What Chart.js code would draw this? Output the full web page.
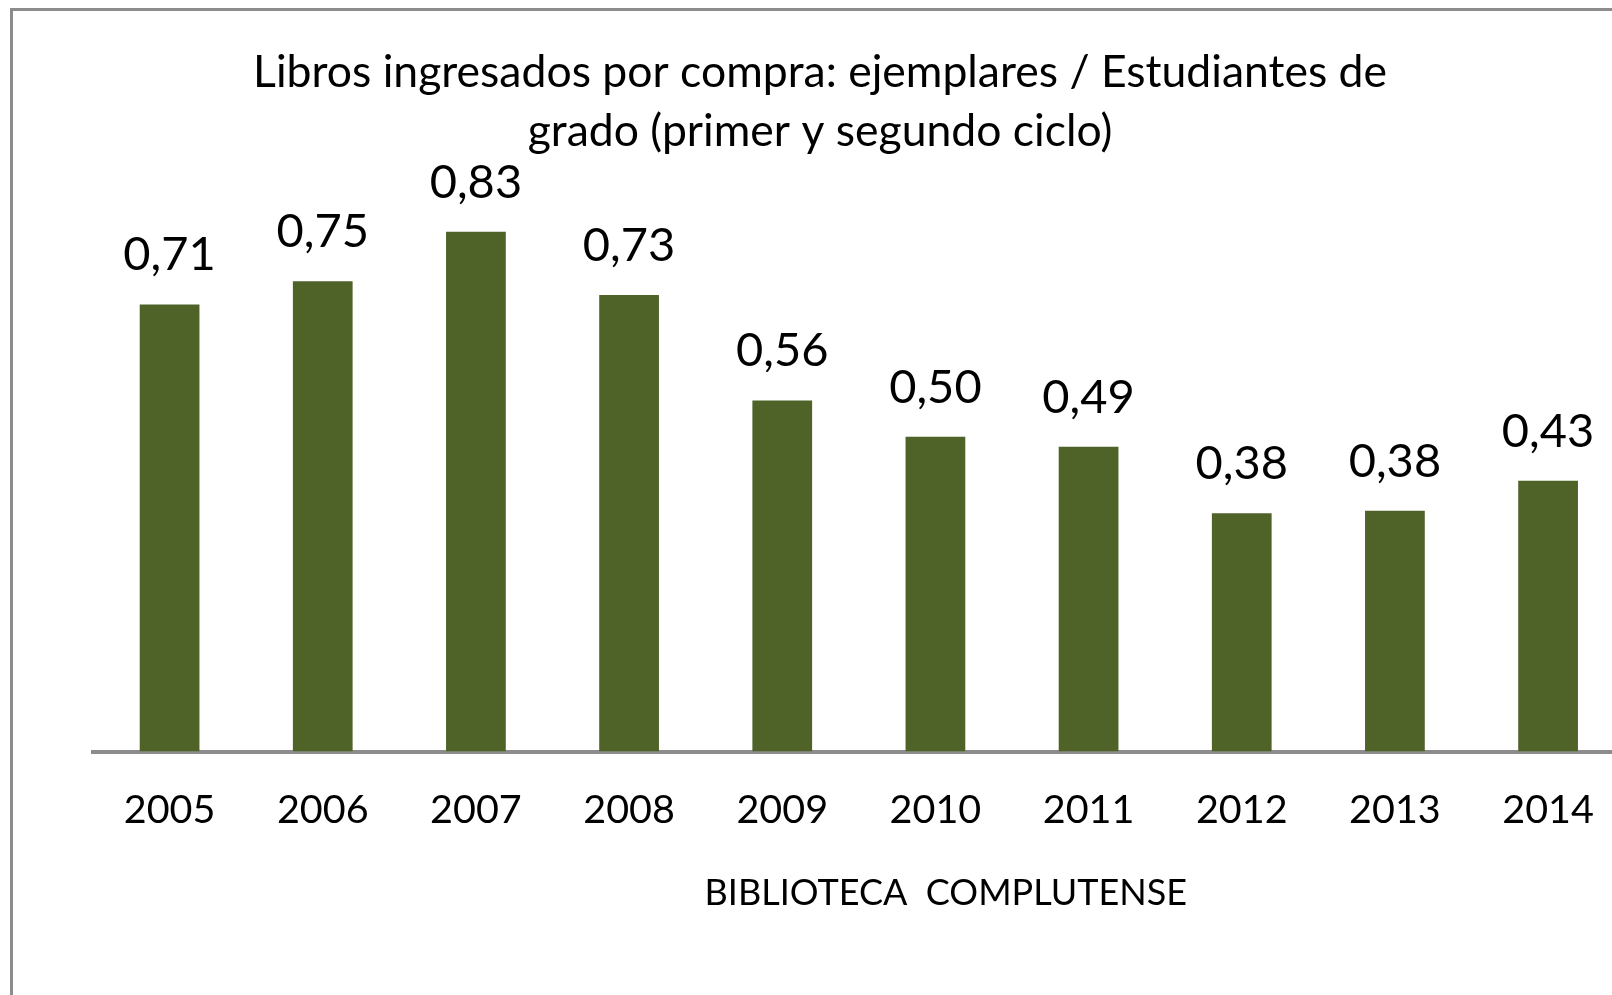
<!DOCTYPE html>
<html>
<head>
<meta charset="utf-8">
<script src="https://cdn.jsdelivr.net/npm/chart.js@4"></script>
<style>
    html, body { margin: 0; padding: 0; background: #fff; overflow: hidden; }
    body { width: 1612px; height: 995px; position: relative; }
    #frame {
        position: absolute; left: 10px; top: 8px; width: 1700px; height: 1100px;
        border-left: 3px solid #8c8c8c; border-top: 3px solid #8c8c8c;
    }
    #chart { position: absolute; left: 13px; top: 11px; }
</style>
</head>
<body>
<div id="frame"></div>
<canvas id="chart" width="1616" height="984"></canvas>
<script>
// --- Data ---
const years = ['2005', '2006', '2007', '2008', '2009', '2010', '2011', '2012', '2013', '2014'];
const ratios = [0.713, 0.750, 0.829, 0.728, 0.560, 0.502, 0.486, 0.380, 0.384, 0.432];
const titleLines = ['Libros ingresados por compra: ejemplares / Estudiantes de', 'grado (primer y segundo ciclo)'];
const axisTitle = 'BIBLIOTECA  COMPLUTENSE';

const FONT = 'Lato, "Open Sans", sans-serif';
const barColor = '#4f6228';

function formatComma(v) {
    return v.toFixed(2).replace('.', ',');
}

// value labels above bars + axis title (sits right of centre in the original)
const labelsPlugin = {
    id: 'barLabels',
    afterDatasetsDraw(chart) {
        const ctx = chart.ctx;
        const meta = chart.getDatasetMeta(0);
        ctx.save();
        ctx.font = '47px ' + FONT;
        ctx.fillStyle = '#000';
        ctx.textAlign = 'center';
        ctx.textBaseline = 'alphabetic';
        meta.data.forEach((bar, i) => {
            ctx.fillText(formatComma(ratios[i]), bar.x, bar.y - 34);
        });
        const area = chart.chartArea;
        ctx.font = '36px ' + FONT;
        ctx.fillText(axisTitle, (area.left + area.right) / 2 + 87, area.bottom + 153);
        ctx.restore();
    }
};

const ctx = document.getElementById('chart').getContext('2d');
new Chart(ctx, {
    type: 'bar',
    data: {
        labels: years,
        datasets: [{
            data: ratios,
            backgroundColor: barColor,
            borderWidth: 0,
            categoryPercentage: 1.0,
            barPercentage: 0.39
        }]
    },
    options: {
        responsive: false,
        animation: false,
        layout: { padding: { left: 0, right: 2, top: 0, bottom: 126 } },
        scales: {
            x: {
                grid: { display: false, drawTicks: false, tickLength: 0 },
                border: { display: true, color: '#8c8c8c', width: 4 },
                ticks: {
                    color: '#000',
                    font: { family: FONT, size: 39.5 },
                    padding: 35,
                    maxRotation: 0,
                    autoSkip: false
                }
            },
            y: {
                min: 0,
                max: 0.915,
                ticks: { display: false },
                grid: { display: false },
                border: { display: false },
                afterFit: (scale) => { scale.width = 80; }
            }
        },
        plugins: {
            legend: { display: false },
            tooltip: { enabled: false },
            title: {
                display: true,
                text: titleLines,
                color: '#000',
                font: { family: FONT, size: 44.5, weight: 'normal', lineHeight: '58.8px' },
                padding: { top: 32.6, bottom: 16.6 }
            }
        }
    },
    plugins: [labelsPlugin]
});
</script>
</body>
</html>
